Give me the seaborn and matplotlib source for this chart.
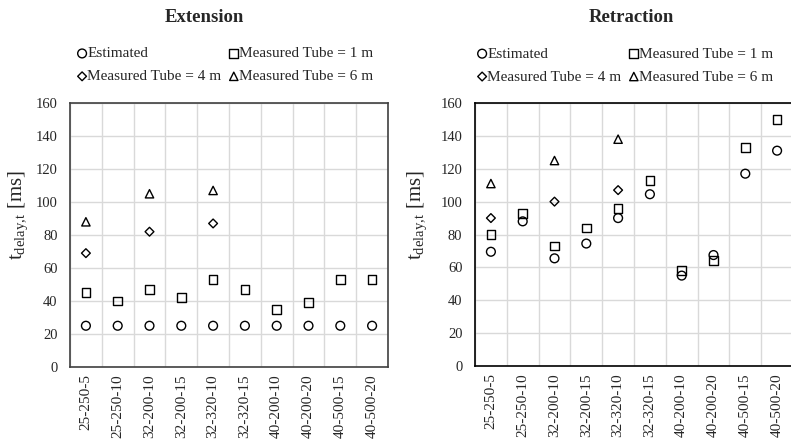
import numpy as np
import pandas as pd
import matplotlib
matplotlib.use("Agg")
import matplotlib.pyplot as plt
from matplotlib.ticker import FixedLocator
import seaborn as sns

configs = ["25-250-5", "25-250-10", "32-200-10", "32-200-15", "32-320-10",
           "32-320-15", "40-200-10", "40-200-20", "40-500-15", "40-500-20"]

ext_estimated = [25, 25, 25, 25, 25, 25, 25, 25, 25, 25]
ext_tube1 = [45, 40, 47, 42, 53, 47, 35, 39, 53, 53]
ext_tube4 = [69, np.nan, 82, np.nan, 87, np.nan, np.nan, np.nan, np.nan, np.nan]
ext_tube6 = [88, np.nan, 105, np.nan, 107, np.nan, np.nan, np.nan, np.nan, np.nan]

ret_estimated = [69.5, 88, 65.5, 74.5, 90, 104.5, 55, 67.5, 117, 131]
ret_tube1 = [80, 93, 73, 84, 96, 113, 58, 64, 133, 150]
ret_tube4 = [90, np.nan, 100, np.nan, 107, np.nan, np.nan, np.nan, np.nan, np.nan]
ret_tube6 = [111, np.nan, 125, np.nan, 138, np.nan, np.nan, np.nan, np.nan, np.nan]

series_labels = ["Estimated", "Measured Tube = 1 m", "Measured Tube = 4 m", "Measured Tube = 6 m"]
series_markers = ["o", "s", "D", "^"]
series_sizes = [40, 40, 20, 36]
yticks = [0, 20, 40, 60, 80, 100, 120, 140, 160]

sns.set_style("white")
plt.rcParams["font.family"] = ["Liberation Serif", "DejaVu Serif"]
plt.rcParams["mathtext.fontset"] = "custom"
plt.rcParams["mathtext.rm"] = "Liberation Serif"
plt.rcParams["mathtext.it"] = "Liberation Serif:italic"
plt.rcParams["mathtext.bf"] = "Liberation Serif:bold"

TXT = "#262626"
fig = plt.figure(figsize=(7.91, 4.43), dpi=100)

W, H = 791.0, 443.0
panels = [
    dict(title="Extension", data=[ext_estimated, ext_tube1, ext_tube4, ext_tube6],
         ax_px=(70, 103, 318, 264), title_x=204, spine="#404040",
         leg_x=0.026, ylab_x=-0.126),
    dict(title="Retraction", data=[ret_estimated, ret_tube1, ret_tube4, ret_tube6],
         ax_px=(475, 103, 318, 263), title_x=631, spine="black",
         leg_x=0.0104, ylab_x=-0.145),
]

for p in panels:
    x0, y0, w, h = p["ax_px"]
    ax = fig.add_axes([x0 / W, 1 - (y0 + h) / H, w / W, h / H])
    for vals, lab, mk, sz in zip(p["data"], series_labels, series_markers, series_sizes):
        df = pd.DataFrame({"config": configs, "value": vals})
        sns.scatterplot(data=df, x="config", y="value", marker=mk, s=sz,
                        facecolor="none", edgecolor="black", linewidth=1.0,
                        label=lab, ax=ax, zorder=3)
    ax.set_xlim(-0.5, len(configs) - 0.5)
    ax.set_ylim(0, 160)
    ax.set_yticks(yticks)
    ax.xaxis.set_minor_locator(FixedLocator(np.arange(len(configs) + 1) - 0.5))
    ax.grid(False)
    ax.grid(True, axis="y", which="major", color="#d9d9d9", linewidth=1.0, zorder=0)
    ax.grid(True, axis="x", which="minor", color="#d9d9d9", linewidth=1.0, zorder=0)
    ax.set_axisbelow(True)
    ax.tick_params(axis="x", which="both", length=0, pad=5, labelsize=11,
                   labelcolor=TXT, labelrotation=90)
    ax.tick_params(axis="y", which="both", length=0, pad=9, labelsize=10.5,
                   labelcolor=TXT)
    ax.set_xlabel("")
    ax.set_ylabel(r"$\mathrm{t}_{\mathrm{delay{,}t}}$ [ms]", fontsize=15, color=TXT)
    ax.yaxis.set_label_coords(p["ylab_x"], 0.575)
    for s in ax.spines.values():
        s.set_visible(True)
        s.set_color(p["spine"])
        s.set_linewidth(1.2)
    handles, labels = ax.get_legend_handles_labels()
    order = [0, 2, 1, 3]
    if ax.get_legend() is not None:
        ax.get_legend().remove()
    leg = ax.legend([handles[i] for i in order], [labels[i] for i in order],
                    loc="upper left", bbox_to_anchor=(p["leg_x"], 1.213), ncol=2,
                    frameon=False, fontsize=11, handlelength=0.5, handletextpad=0.1,
                    columnspacing=0.55, labelspacing=0.6, borderpad=0, borderaxespad=0,
                    scatterpoints=1)
    for t in leg.get_texts():
        t.set_color(TXT)
    fig.text(p["title_x"] / W, 1 - 18 / H, p["title"], ha="center", va="center",
             fontsize=13.5, fontweight="bold", color=TXT)

fig.savefig("out.png", dpi=100)
